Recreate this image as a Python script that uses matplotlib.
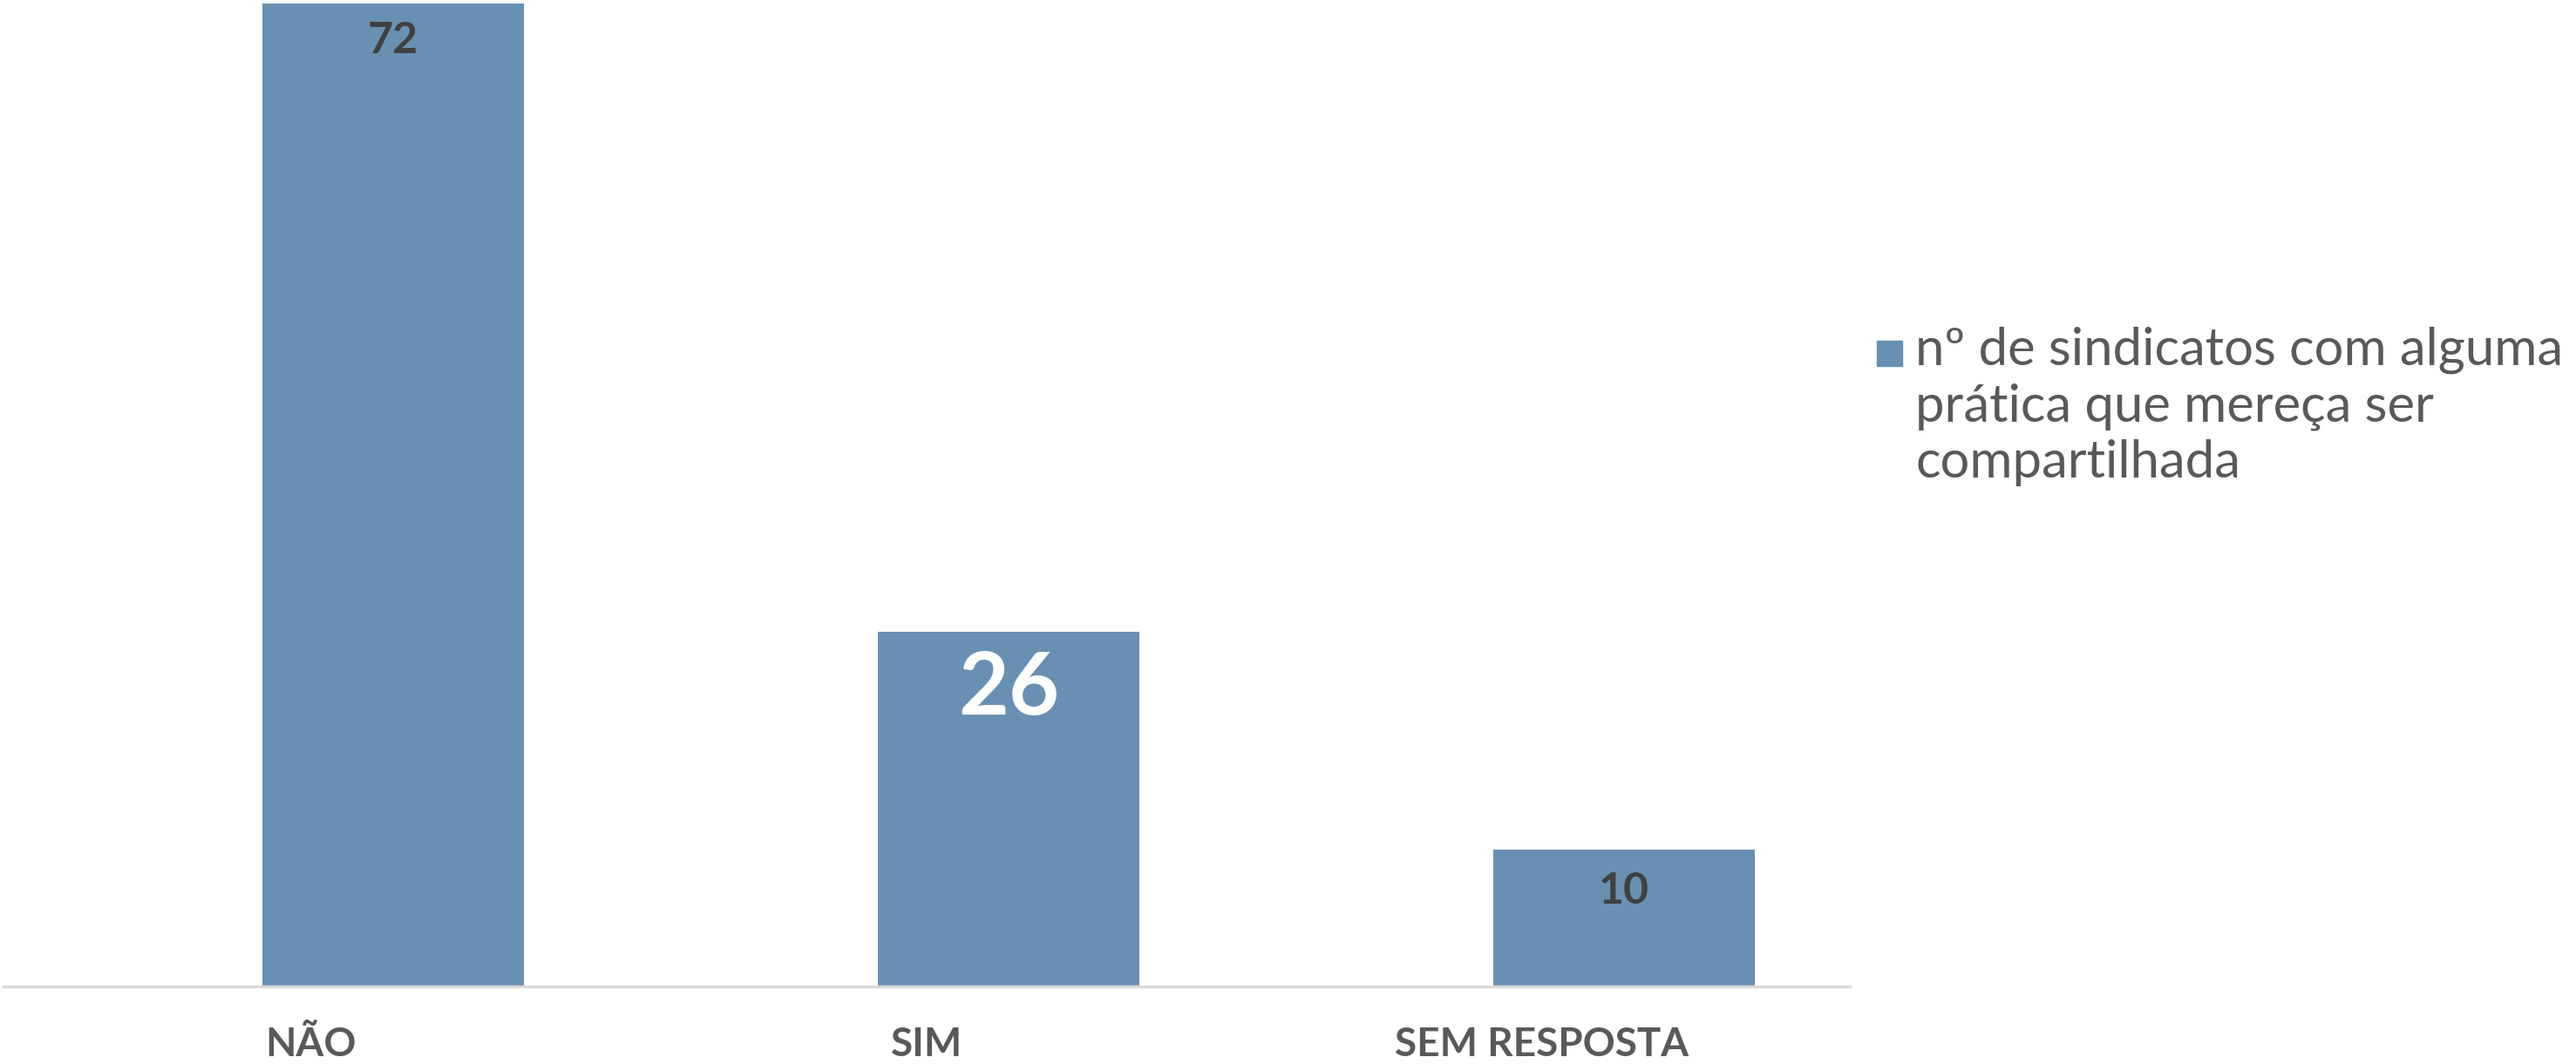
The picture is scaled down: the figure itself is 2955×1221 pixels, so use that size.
import matplotlib
matplotlib.use("Agg")
import matplotlib.pyplot as plt
from matplotlib.patches import Rectangle

# data
categories = ["NÃO", "SIM", "SEM RESPOSTA"]
values = [72, 26, 10]
legend_label = "nº de sindicatos com alguma\nprática que mereça ser\ncompartilhada"

# styles
bar_color = "#6890B3"
label_colors = ["#404040", "#FFFFFF", "#404040"]
label_sizes = [36, 72, 36]
label_offsets = [-31, -48, -34]  # points below the bar top (text centre)
bar_shift = 0.133  # bars sit right of the category centre in the original

plt.rcParams['font.family'] = ['Lato', 'DejaVu Sans']

fig = plt.figure(figsize=(29.55, 12.21), dpi=100)
ax = fig.add_axes([4 / 2955, 1 - 1132 / 1221, 2118 / 2955, 1130 / 1221])

x = list(range(len(categories)))
bars = ax.bar([i + bar_shift for i in x], values, width=0.425, color=bar_color, zorder=2)

for rect, v, c, s, off in zip(bars, values, label_colors, label_sizes, label_offsets):
    ax.annotate(str(v), xy=(rect.get_x() + rect.get_width() / 2, rect.get_height()),
                xytext=(0, off), textcoords='offset points',
                ha='center', va='center', fontsize=s, fontweight='bold', color=c)

ax.set_xlim(-0.5, 2.5)
ax.set_ylim(0, 72.1)
ax.set_yticks([])
ax.set_xticks(x)
ax.set_xticklabels(categories, fontsize=33, fontweight='bold', color='#595959')
ax.tick_params(axis='x', length=0, pad=33)

for side in ['top', 'right', 'left']:
    ax.spines[side].set_visible(False)
ax.spines['bottom'].set_color('#D9D9D9')
ax.spines['bottom'].set_linewidth(2.5)

# legend
fig.patches.append(Rectangle((2153 / 2955, 1 - 420 / 1221), 29 / 2955, 29 / 1221,
                             transform=fig.transFigure, color=bar_color))
fig.text(2197 / 2955, 1 - 375 / 1221, legend_label, fontsize=43,
         color='#595959', ha='left', va='top', linespacing=1.23)

plt.savefig('out.png', dpi=100)
